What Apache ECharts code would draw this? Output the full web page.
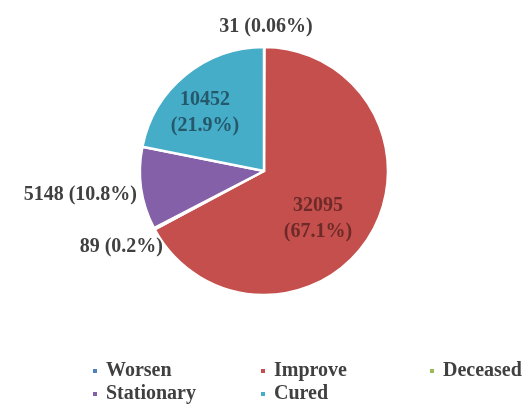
<!DOCTYPE html>
<html>
<head>
<meta charset="utf-8">
<script src="https://cdn.jsdelivr.net/npm/echarts@6/dist/echarts.min.js"></script>
<style>
html,body{margin:0;padding:0;background:#fff;}
#c{width:529px;height:408px;}
</style>
</head>
<body>
<div id="c"></div>
<script>
const categories = ['Worsen', 'Improve', 'Deceased', 'Stationary', 'Cured'];
const values = [31, 32095, 89, 5148, 10452];
const percentLabels = ['0.06', '67.1', '0.2', '10.8', '21.9'];
const colors = ['#4f81bd', '#c44f4c', '#9bbb59', '#8360a8', '#45adc8'];

const labelColors = ['#404040', '#6e2a28', '#404040', '#404040', '#24586a'];
const twoLine = [false, true, false, false, true];
const labelPos = [
  {x: 266, y: 27, align: 'center'},
  {x: 318, y: 219, align: 'center'},
  {x: 163, y: 247, align: 'right'},
  {x: 137, y: 195, align: 'right'},
  {x: 205, y: 113, align: 'center'}
];
const legendPos = [
  {left: 91, top: 361},
  {left: 259, top: 361},
  {left: 428, top: 361},
  {left: 91, top: 384},
  {left: 259, top: 384}
];

const chart = echarts.init(document.getElementById('c'), null, {renderer: 'canvas'});
const font = '"Liberation Serif", "DejaVu Serif", serif';
const legendText = {fontFamily: font, fontWeight: 'bold', fontSize: 20, color: '#404040'};

const data = categories.map((name, i) => ({
  name: name,
  value: values[i],
  itemStyle: {color: colors[i]},
  label: {color: labelColors[i]}
}));

const legends = categories.map((name, i) => ({
  left: legendPos[i].left, top: legendPos[i].top,
  padding: 0,
  itemWidth: 6, itemHeight: 6,
  itemGap: 8,
  icon: 'rect',
  selectedMode: false,
  formatter: '{t|{name}}',
  textStyle: Object.assign({padding: [0, 0, 0, 3], rich: {t: legendText}}, legendText),
  data: [name]
}));

chart.setOption({
  animation: false,
  backgroundColor: '#fff',
  textStyle: {fontFamily: font},
  legend: legends,
  series: [{
    type: 'pie',
    center: [264, 171],
    radius: 124,
    startAngle: 90,
    clockwise: true,
    avoidLabelOverlap: false,
    itemStyle: {borderColor: '#ffffff', borderWidth: 2.5},
    label: {
      show: true,
      position: 'outside',
      fontFamily: font,
      fontWeight: 'bold',
      fontSize: 20,
      lineHeight: 26,
      formatter: p => twoLine[p.dataIndex]
        ? p.value + '\n(' + percentLabels[p.dataIndex] + '%)'
        : p.value + ' (' + percentLabels[p.dataIndex] + '%)'
    },
    labelLine: {show: false},
    labelLayout: p => {
      const lp = labelPos[p.dataIndex];
      return {x: lp.x, y: lp.y, align: lp.align, verticalAlign: 'middle'};
    },
    emphasis: {disabled: true},
    data: data
  }]
});
</script>
</body>
</html>
